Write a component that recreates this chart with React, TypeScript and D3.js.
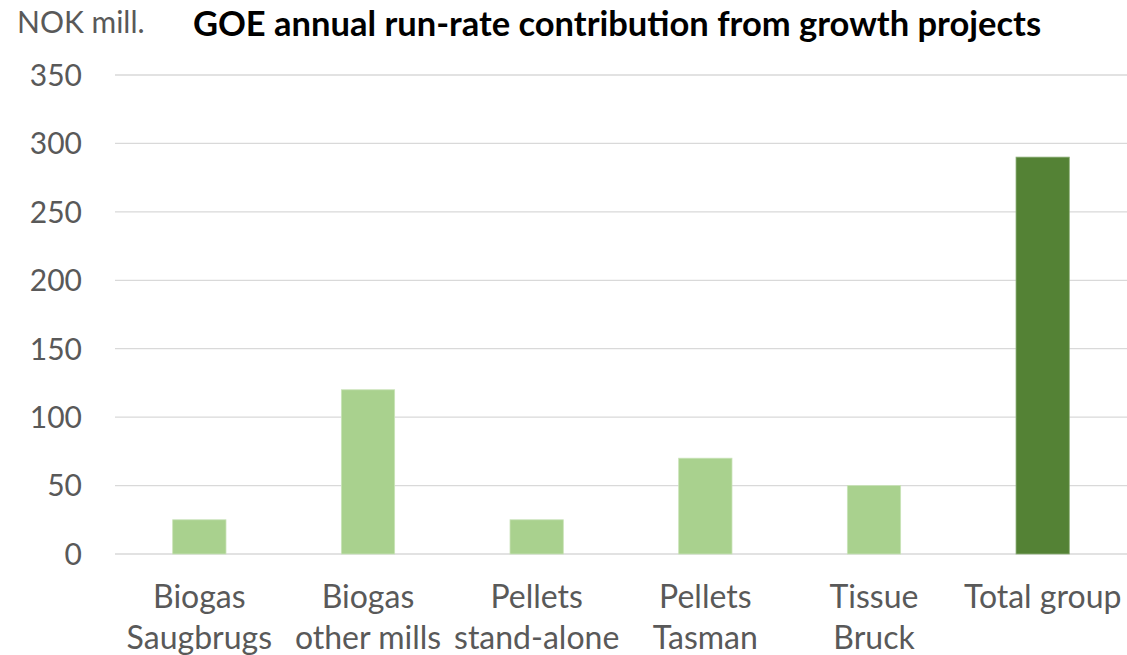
import React from "react";
import * as d3 from "d3";

const categories: string[][] = [
  ["Biogas", "Saugbrugs"],
  ["Biogas", "other mills"],
  ["Pellets", "stand-alone"],
  ["Pellets", "Tasman"],
  ["Tissue", "Bruck"],
  ["Total group"],
];
const values: number[] = [25, 120, 25, 70, 50, 290];
const isTotal: boolean[] = [false, false, false, false, false, true];
const yTicks: number[] = [0, 50, 100, 150, 200, 250, 300, 350];
const title = "GOE annual run-rate contribution from growth projects";
const unitLabel = "NOK mill.";

const W = 1127;
const H = 655;
const FONT = "Lato, 'Open Sans', sans-serif";

export default function App() {
  const keys = categories.map((c) => c.join(" "));
  const x = d3.scaleBand<string>().domain(keys).range([115, 1127]).paddingInner(0.684).paddingOuter(0.342);
  const y = d3.scaleLinear().domain([0, 350]).range([554, 75]);

  return (
    <svg width={W} height={H} style={{ position: "absolute", left: 0, top: 0, background: "#fff" }}>
      <rect x={0} y={0} width={W} height={H} fill="#fff" />
      <text x={17} y={33} fontFamily={FONT} fontSize={30} fill="#595959">{unitLabel}</text>
      <text x={617} y={36} textAnchor="middle" fontFamily={FONT} fontSize={34.5} fontWeight={700} fill="#000">{title}</text>
      {yTicks.map((t) => (
        <g key={t}>
          <line x1={115} x2={1127} y1={y(t)} y2={y(t)} stroke="#d9d9d9" strokeWidth={1.3} />
          <text x={82} y={y(t)} dy="0.36em" textAnchor="end" fontFamily={FONT} fontSize={30} fill="#595959">{t}</text>
        </g>
      ))}
      {values.map((v, i) => (
        <rect
          key={keys[i]}
          x={x(keys[i])}
          y={y(v)}
          width={x.bandwidth()}
          height={y(0) - y(v)}
          fill={isTotal[i] ? "#548235" : "#a9d18e"}
          stroke={isTotal[i] ? "#8fb07a" : "#c9e3b8"}
          strokeWidth={0.8}
        />
      ))}
      {categories.map((lines, i) => (
        <text key={keys[i]} textAnchor="middle" fontFamily={FONT} fontSize={32} fill="#595959">
          {lines.map((ln, j) => (
            <tspan key={j} x={(x(keys[i]) as number) + x.bandwidth() / 2} y={608 + j * 41}>{ln}</tspan>
          ))}
        </text>
      ))}
    </svg>
  );
}
